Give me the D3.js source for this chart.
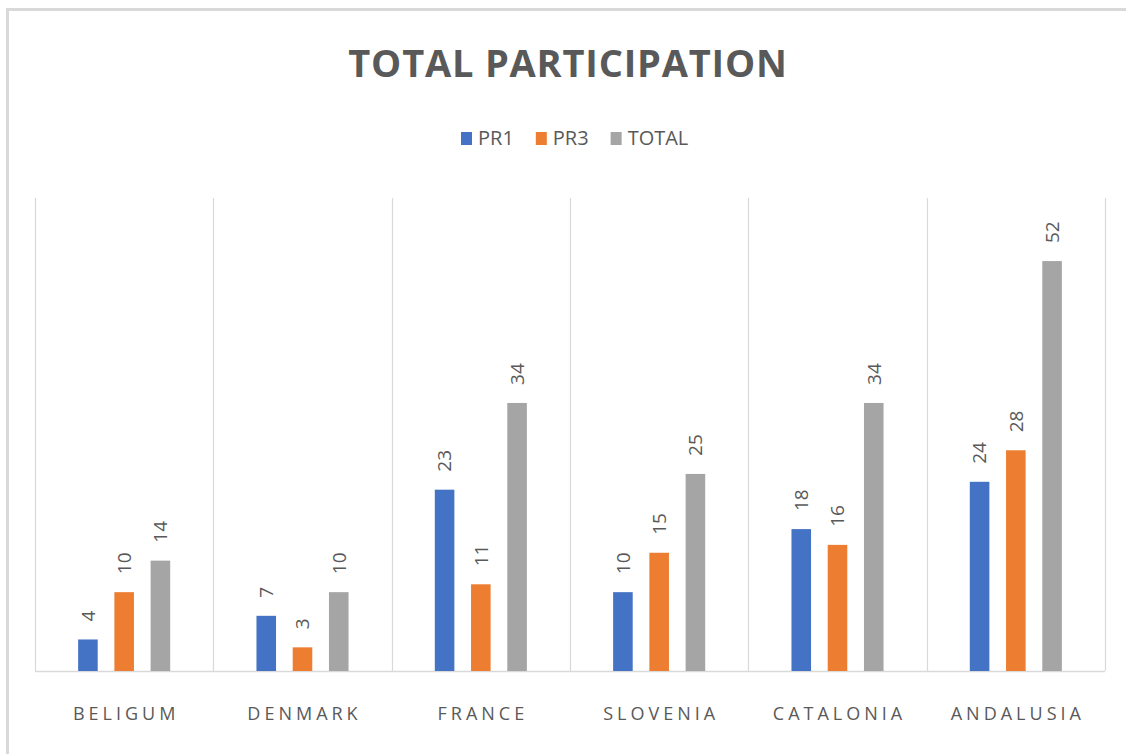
<!DOCTYPE html>
<html>
<head>
<meta charset="utf-8">
<script src="https://cdn.jsdelivr.net/npm/d3@7"></script>
<style>
  html, body { margin: 0; padding: 0; background: #fff; }
  #chart { width: 1126px; height: 754px; }
  text { font-family: "Open Sans", "DejaVu Sans", sans-serif; fill: #595959; }
</style>
</head>
<body>
<div id="chart"></div>
<script>
const width = 1126;
const height = 754;

// data
const countries = ["BELIGUM", "DENMARK", "FRANCE", "SLOVENIA", "CATALONIA", "ANDALUSIA"];
const seriesNames = ["PR1", "PR3", "TOTAL"];
const pr1 = [4, 7, 23, 10, 18, 24];
const pr3 = [10, 3, 11, 15, 16, 28];
const total = [14, 10, 34, 25, 34, 52];
const seriesValues = [pr1, pr3, total];
const yMax = 60;

const colors = d3.scaleOrdinal()
  .domain(seriesNames)
  .range(["#4472C4", "#ED7D31", "#A5A5A5"]);

const margin = { left: 35, right: 21, top: 198, bottom: 83 };

const svg = d3.select("#chart")
  .append("svg")
  .attr("width", width)
  .attr("height", height);

// moldura do gráfico
svg.append("rect")
  .attr("x", 7.5)
  .attr("y", 9.5)
  .attr("width", width + 20)
  .attr("height", height + 20)
  .attr("fill", "none")
  .attr("stroke", "#d9d9d9")
  .attr("stroke-width", 3);

const x0 = d3.scaleBand()
  .domain(countries)
  .range([margin.left, width - margin.right]);

const x1 = d3.scaleBand()
  .domain(seriesNames)
  .range([0, x0.bandwidth()])
  .paddingInner(0.46)
  .paddingOuter(1.19);

const y = d3.scaleLinear()
  .domain([0, yMax])
  .range([height - margin.bottom, margin.top]);

// linhas verticais entre categorias
const bounds = countries.map(c => x0(c)).concat([x0.range()[1]]);
svg.selectAll("line.sep")
  .data(bounds)
  .enter()
  .append("line")
  .attr("class", "sep")
  .attr("x1", d => Math.round(d) + 0.5)
  .attr("x2", d => Math.round(d) + 0.5)
  .attr("y1", y(yMax))
  .attr("y2", y(0))
  .attr("stroke", "#d9d9d9")
  .attr("stroke-width", 1.2);

// linha base
svg.append("line")
  .attr("x1", x0.range()[0])
  .attr("x2", x0.range()[1])
  .attr("y1", Math.round(y(0)) + 0.5)
  .attr("y2", Math.round(y(0)) + 0.5)
  .attr("stroke", "#d9d9d9")
  .attr("stroke-width", 1.5);

// barras
const rows = [];
countries.forEach((c, i) => {
  seriesNames.forEach((s, j) => {
    rows.push({ country: c, series: s, value: seriesValues[j][i] });
  });
});

svg.selectAll("rect.bar")
  .data(rows)
  .enter()
  .append("rect")
  .attr("class", "bar")
  .attr("x", d => x0(d.country) + x1(d.series))
  .attr("y", d => y(d.value))
  .attr("width", x1.bandwidth())
  .attr("height", d => y(0) - y(d.value))
  .attr("fill", d => colors(d.series));

// rótulos de dados (girados)
svg.selectAll("text.val")
  .data(rows)
  .enter()
  .append("text")
  .attr("class", "val")
  .attr("transform", d => {
    const cx = x0(d.country) + x1(d.series) + x1.bandwidth() / 2;
    return `translate(${cx},${y(d.value) - 18}) rotate(-90)`;
  })
  .attr("dy", "0.36em")
  .attr("text-anchor", "start")
  .style("font-size", "19px")
  .text(d => d.value);

// rótulos das categorias
svg.selectAll("text.cat")
  .data(countries)
  .enter()
  .append("text")
  .attr("class", "cat")
  .attr("x", d => x0(d) + x0.bandwidth() / 2 + 2)
  .attr("y", 720)
  .attr("text-anchor", "middle")
  .style("font-size", "18px")
  .style("letter-spacing", "4px")
  .text(d => d);

// título
svg.append("text")
  .attr("x", 568)
  .attr("y", 77)
  .attr("text-anchor", "middle")
  .style("font-size", "38px")
  .style("font-weight", "bold")
  .style("letter-spacing", "0.8px")
  .text("TOTAL PARTICIPATION");

// legenda
const legend = svg.append("g");
let lx = 461;
seriesNames.forEach(s => {
  legend.append("rect")
    .attr("x", lx)
    .attr("y", 132)
    .attr("width", 11)
    .attr("height", 13)
    .attr("fill", colors(s));
  const t = legend.append("text")
    .attr("x", lx + 17)
    .attr("y", 145)
    .style("font-size", "20px")
    .text(s);
  lx += 17 + t.node().getComputedTextLength() + 22;
});
</script>
</body>
</html>
